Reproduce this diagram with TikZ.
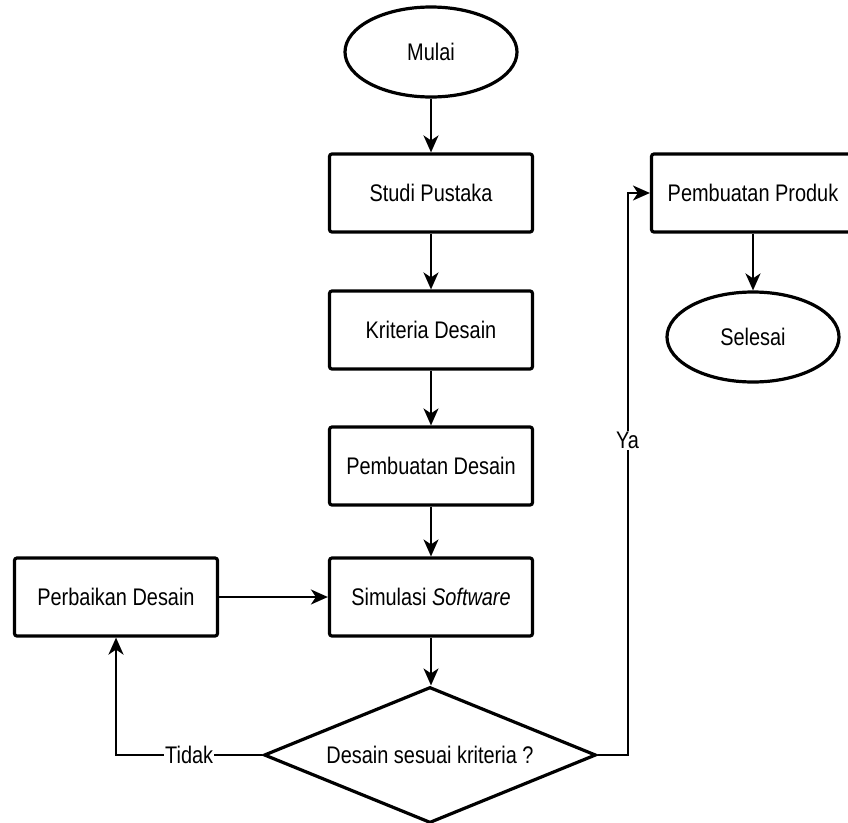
\documentclass[tikz,border=0pt]{standalone}
\usepackage{fontspec}
\setmainfont{Liberation Sans}[FakeStretch=0.83]
\usetikzlibrary{shapes.geometric,arrows.meta}

\tikzset{
	proses/.style={draw, line width=3.2pt, rounded corners=2.5pt, minimum width=203pt, minimum height=78pt},
	terminal/.style={ellipse, draw, line width=3.2pt, minimum width=172pt, minimum height=90pt},
	keputusan/.style={diamond, aspect=2.44, draw, line width=3.2pt, minimum width=332pt, minimum height=136pt, inner sep=0pt},
	alur/.style={line width=2pt, -{Stealth[length=17pt,width=15pt,inset=5pt]}},
	tulisan/.style={fill=white, inner sep=1pt}
}

\begin{document}
\begin{tikzpicture}[x=1pt, y=-1pt, font=\fontsize{24}{28}\selectfont]
	\useasboundingbox (0,0) rectangle (848,822);

	\node[terminal] (mulai) at (431,52) {Mulai};
	\node[proses] (studi) at (431,193) {Studi Pustaka};
	\node[proses] (kriteria) at (431,330) {Kriteria Desain};
	\node[proses] (desain) at (431,466) {Pembuatan Desain};
	\node[proses] (simulasi) at (431,597) {Simulasi \textit{Software}};
	\node[proses] (perbaikan) at (116,597) {Perbaikan Desain};
	\node[keputusan] (cek) at (430,755) {Desain sesuai kriteria ?};
	\node[proses] (produk) at (753,193) {Pembuatan Produk};
	\node[terminal] (selesai) at (753,337) {Selesai};

	\draw[alur] (mulai) -- (studi);
	\draw[alur] (studi) -- (kriteria);
	\draw[alur] (kriteria) -- (desain);
	\draw[alur] (desain) -- (simulasi);
	\draw[alur] (simulasi.south) -- (simulasi.south |- cek.north);
	\draw[alur] (perbaikan) -- (simulasi);
	\draw[alur] (produk) -- (selesai);

	% tidak -> kembali ke perbaikan
	\draw[alur] (cek.west) -| node[tulisan, pos=0.25] {Tidak} (perbaikan.south);
	% ya -> lanjut ke produk
	\draw[alur] (cek.east) -- ++(30,0) |- node[tulisan, pos=0.28] {Ya} (produk.west);
\end{tikzpicture}
\end{document}
